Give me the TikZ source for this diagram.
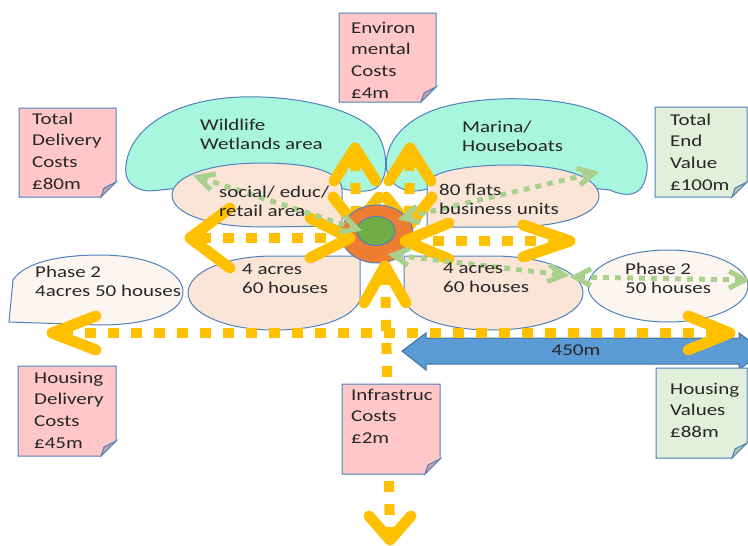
\documentclass[tikz,border=0pt]{standalone}
\usepackage{fontspec}
\setmainfont{Carlito}[FakeStretch=1.27]
\usetikzlibrary{calc,shapes.geometric}
\definecolor{cyanfill}{RGB}{168,246,222}
\definecolor{edge}{RGB}{79,129,189}
\definecolor{peach}{RGB}{251,229,214}
\definecolor{lightpeach}{RGB}{253,246,240}
\definecolor{pinknote}{RGB}{255,199,199}
\definecolor{pinkfold}{RGB}{204,160,170}
\definecolor{greennote}{RGB}{226,239,218}
\definecolor{greenfold}{RGB}{181,196,178}
\definecolor{ygold}{RGB}{255,192,0}
\definecolor{orangec}{RGB}{237,125,49}
\definecolor{greenc}{RGB}{112,173,71}
\definecolor{lgreen}{RGB}{169,209,142}
\definecolor{bluearrow}{RGB}{91,155,213}
\definecolor{bluedge}{RGB}{65,113,156}
\definecolor{txt}{RGB}{38,38,38}
\newcommand\stickynote[6]{%
  \filldraw[notebox,fill=#5] (#1,#2) -- (#3,#2) -- (#3,{#4-15}) -- ({#3-15},#4) -- (#1,#4) -- cycle;
  \filldraw[notebox,fill=#6] (#3,{#4-15}) -- ({#3-15},#4) -- ({#3-12},{#4-9}) -- cycle;}
\newcommand\gtip[2]{\draw[gchev] ($(#1)!18pt!28:(#2)$) -- (#1) -- ($(#1)!18pt!-28:(#2)$);}
\begin{document}
\begin{tikzpicture}[x=1pt,y=-1pt,
  area/.style={fill=cyanfill,draw=edge,line width=1pt},
  plot/.style={fill=peach,draw=edge,line width=1pt},
  phase/.style={fill=lightpeach,draw=edge,line width=1pt},
  notebox/.style={draw=edge,line width=1pt},
  ydots/.style={draw=ygold,line width=10pt,dash pattern=on 11pt off 12pt},
  ychev/.style={draw=ygold,line width=11pt,line cap=round,line join=round},
  gdots/.style={draw=lgreen,line width=5pt,dash pattern=on 6pt off 6pt,shorten <=4pt,shorten >=4pt},
  gchev/.style={draw=lgreen,line width=5pt,line join=miter},
  notetext/.style={anchor=north west,inner sep=0pt,align=left,text=txt,font=\fontsize{16.5}{21.7}\selectfont},
  areatext/.style={anchor=north west,inner sep=0pt,align=left,text=txt,font=\fontsize{16.5}{19}\selectfont},
]
\useasboundingbox (0,0) rectangle (748,546);
\clip (0,0) rectangle (748,546);

% cyan areas
\filldraw[area] (150,191) .. controls (130,190) and (124,178) .. (126,165)
  .. controls (130,130) and (170,100) .. (240,97)
  .. controls (300,95) and (360,110) .. (378,135)
  .. controls (390,155) and (388,185) .. (372,190)
  .. controls (360,193) and (345,190) .. (335,186) -- (200,186) -- cycle;
\filldraw[area] (427,189) .. controls (410,194) and (395,190) .. (388,175)
  .. controls (380,150) and (400,120) .. (440,108)
  .. controls (480,96) and (540,96) .. (580,106)
  .. controls (630,120) and (655,150) .. (645,180)
  .. controls (640,197) and (625,197) .. (610,190) -- (520,180) -- cycle;

% plots
\filldraw[plot] (342,226) -- (342,190) .. controls (342,170) and (305,163) .. (262,163)
  .. controls (205,163) and (172,178) .. (172,195)
  .. controls (172,214) and (210,227) .. (262,227) -- cycle;
\filldraw[plot] (427,227) -- (427,185) .. controls (427,172) and (465,165) .. (510,165)
  .. controls (565,165) and (599,178) .. (599,196)
  .. controls (599,215) and (560,227) .. (510,227) -- cycle;
\filldraw[plot] (360,256) -- (360,300) .. controls (352,320) and (315,330) .. (274,330)
  .. controls (225,330) and (188,313) .. (188,293)
  .. controls (188,272) and (225,256) .. (274,256) -- cycle;
\filldraw[plot] (404,256) -- (404,300) .. controls (412,320) and (450,330) .. (492,330)
  .. controls (545,330) and (583,313) .. (583,293)
  .. controls (583,272) and (545,256) .. (492,256) -- cycle;
\filldraw[phase] (9,322) -- (13,280) .. controls (25,262) and (60,255) .. (100,255)
  .. controls (150,255) and (183,272) .. (183,292)
  .. controls (183,312) and (150,325) .. (100,325) -- cycle;
\filldraw[phase] (668,286) ellipse [x radius=80, y radius=36];

% blue distance arrow
\filldraw[fill=bluearrow,draw=bluedge,line width=1pt] (402,351) -- (426,333) -- (426,338) -- (739,338)
  -- (739,333) -- (763,351) -- (739,370) -- (739,364) -- (426,364) -- (426,370) -- cycle;
\node[anchor=base,inner sep=0pt,text=txt,font=\fontsize{16.5}{19}\selectfont] (dist) at (576,355) {450m};

% yellow arrow end points
\coordinate (yA1) at (190,238); \coordinate (yA2) at (350,238);
\coordinate (yB1) at (405,241); \coordinate (yB2) at (570,241);
\coordinate (yC1) at (355,148); \coordinate (yC2) at (356,226);
\coordinate (yD1) at (410,148); \coordinate (yD2) at (409,226);
\coordinate (yE1) at (385,266); \coordinate (yE2) at (390,540);
\coordinate (yF1) at (52,333);  \coordinate (yF2) at (730,333);

% vertical double arrows to the top
\draw[ydots,shorten <=12pt,shorten >=14pt] (yC1) -- (yC2);
\draw[ydots,shorten <=12pt,shorten >=14pt] (yD1) -- (yD2);
\draw[ychev] ($(yC1)+(-21,33)$) -- (yC1) -- ($(yC1)+(21,33)$);
\draw[ychev] ($(yD1)+(-21,33)$) -- (yD1) -- ($(yD1)+(21,33)$);
\draw[ychev] ($(yC2)+(-23,-29)$) -- (yC2) -- ($(yC2)+(23,-29)$);
\draw[ychev] ($(yD2)+(-23,-29)$) -- (yD2) -- ($(yD2)+(23,-29)$);

% hub
\node[ellipse,fill=orangec,draw=edge,line width=1pt,minimum width=72pt,minimum height=58pt,inner sep=0pt] (hub) at (377,234) {};
\node[ellipse,fill=greenc,draw=edge,line width=1pt,minimum width=38pt,minimum height=29pt,inner sep=0pt] (core) at (376,231) {};

% horizontal double arrows
\draw[ydots,shorten <=10pt,shorten >=5pt] (yA1) -- (yA2);
\draw[ydots,shorten <=5pt,shorten >=10pt] (yB1) -- (yB2);
\draw[ychev] ($(yA1)+(40,-30)$) -- (yA1) -- ($(yA1)+(40,30)$);
\draw[ychev] ($(yA2)+(-40,-20)$) -- (yA2) -- ($(yA2)+(-40,20)$);
\draw[ychev] ($(yB1)+(44,-18)$) -- (yB1) -- ($(yB1)+(44,18)$);
\draw[ychev] ($(yB2)+(-47,-16)$) -- (yB2) -- ($(yB2)+(-47,16)$);

% long horizontal and bottom vertical double arrows
\draw[ydots,shorten <=10pt,shorten >=8pt] (yF1) -- (yF2);
\draw[ydots,shorten <=8pt,shorten >=6pt] (yE1) -- (yE2);
\draw[ychev] ($(yF1)+(44,-17)$) -- (yF1) -- ($(yF1)+(44,17)$);
\draw[ychev] ($(yF2)+(-42,-17)$) -- (yF2) -- ($(yF2)+(-42,17)$);
\draw[ychev] ($(yE1)+(-21,37)$) -- (yE1) -- ($(yE1)+(21,37)$);
\draw[ychev] ($(yE2)+(-21,-24)$) -- (yE2) -- ($(yE2)+(21,-24)$);

% green links
\coordinate (g1a) at (198,177); \coordinate (g1b) at (357,229);
\coordinate (g2a) at (403,218); \coordinate (g2b) at (594,173);
\coordinate (g3a) at (393,255); \coordinate (g3b) at (564,275);
\coordinate (g4a) at (575,277); \coordinate (g4b) at (745,280);
\draw[gdots] (g1a) -- (g1b); \gtip{g1a}{g1b} \gtip{g1b}{g1a}
\draw[gdots] (g2a) -- (g2b); \gtip{g2a}{g2b} \gtip{g2b}{g2a}
\draw[gdots] (g3a) -- (g3b); \gtip{g3a}{g3b} \gtip{g3b}{g3a}
\draw[gdots] (g4a) -- (g4b); \gtip{g4a}{g4b} \gtip{g4b}{g4a}

% sticky notes
\stickynote{339}{13}{436}{102}{pinknote}{pinkfold}
\stickynote{19}{108}{116}{197}{pinknote}{pinkfold}
\stickynote{655}{107}{747}{197}{greennote}{greenfold}
\stickynote{18}{366}{116}{456}{pinknote}{pinkfold}
\stickynote{342}{384}{440}{474}{pinknote}{pinkfold}
\stickynote{656}{368}{747}{458}{greennote}{greenfold}

% texts
\node[areatext] (wild) at (200,116.7) {\strut Wildlife\\Wetlands area};
\node[areatext] (marina) at (462,118.7) {\strut Marina/\\Houseboats};
\node[areatext] (social) at (219,183.7) {\strut social/ educ/\\retail area};
\node[areatext] (flats) at (439,181.7) {\strut 80 flats\\business units};
\node[areatext] (acresL) at (242,260.7) {\strut 4 acres\\60 houses};
\node[areatext] (acresR) at (443,259.7) {\strut 4 acres\\60 houses};
\node[areatext] (phaseL) at (35,263.7) {\strut Phase 2\\4acres 50 houses};
\node[areatext] (phaseR) at (625,260.7) {\strut Phase 2\\50 houses};

\node[notetext] (env) at (351,17.8) {\strut Environ\\mental\\Costs\\£4m};
\node[notetext] (tdc) at (32,108.8) {\strut Total\\Delivery\\Costs\\£80m};
\node[notetext] (tev) at (670,109.8) {\strut Total\\End\\Value\\£100m};
\node[notetext] (hdc) at (34,367.8) {\strut Housing\\Delivery\\Costs\\£45m};
\node[notetext] (inf) at (351,384.8) {\strut Infrastruc\\Costs\\£2m};
\node[notetext] (hv) at (670,378.8) {\strut Housing\\Values\\£88m};
\end{tikzpicture}
\end{document}
